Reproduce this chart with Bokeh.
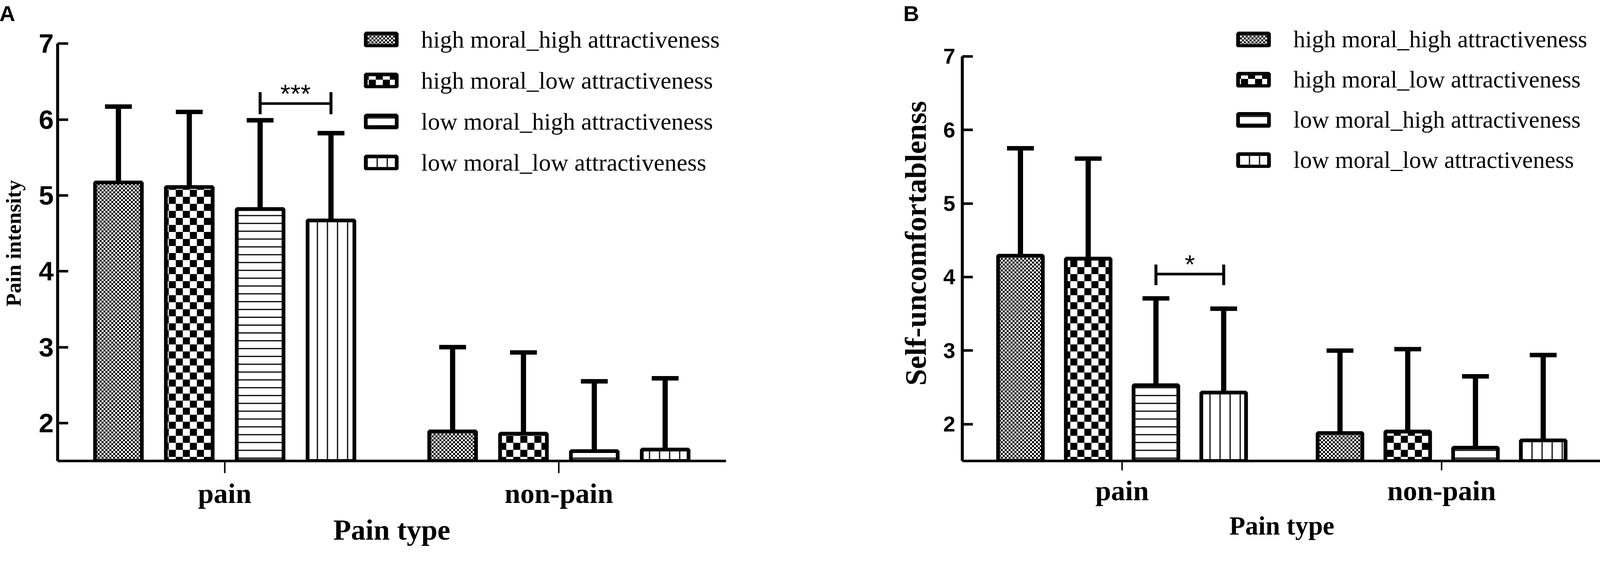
import base64
from bokeh.plotting import figure
from bokeh.models import (FactorRange, Range1d, ColumnDataSource, FixedTicker, Legend,
                          LegendItem, ImageURLTexture)
from bokeh.transform import dodge
from bokeh.layouts import row
from bokeh.core.properties import value
from bokeh.embed import file_html
from bokeh.resources import INLINE

# ---------------- data ----------------
categories = ["pain", "non-pain"]
series_names = ["high moral_high attractiveness", "high moral_low attractiveness",
                "low moral_high attractiveness", "low moral_low attractiveness"]
y_ticks = [2, 3, 4, 5, 6, 7]

# Panel A: Pain intensity, mean and mean + SD (pain, non-pain)
a_hmha = [5.17, 1.89]
a_hmha_upper = [6.17, 3.00]
a_hmla = [5.11, 1.86]
a_hmla_upper = [6.10, 2.93]
a_lmha = [4.82, 1.63]
a_lmha_upper = [5.99, 2.55]
a_lmla = [4.67, 1.65]
a_lmla_upper = [5.82, 2.59]

# Panel B: Self-uncomfortablenss, mean and mean + SD (pain, non-pain)
b_hmha = [4.29, 1.88]
b_hmha_upper = [5.75, 3.00]
b_hmla = [4.25, 1.90]
b_hmla_upper = [5.61, 3.02]
b_lmha = [2.53, 1.68]
b_lmha_upper = [3.71, 2.65]
b_lmla = [2.43, 1.78]
b_lmla_upper = [3.57, 2.94]

# significance brackets (low moral_high vs low moral_low, "pain")
a_sig_text = "***"
a_sig_line = 6.21
a_sig_ends = [6.07, 6.36]
a_sig_text_y = 6.34
b_sig_text = "*"
b_sig_line = 4.04
b_sig_ends = [3.89, 4.17]
b_sig_text_y = 4.17

# ---------------- styling ----------------
R = 1 / 1.048   # reference pixels -> page pixels


def s(v):
    return v * R


def px(v):
    return f"{v * R:.1f}px"


OFFSETS = [-0.318, -0.106, 0.106, 0.318]
BAR_W = 0.14


def checker_url(n):
    c = n // 2
    svg = (f"<svg xmlns='http://www.w3.org/2000/svg' width='{n}' height='{n}'>"
           f"<rect width='{n}' height='{n}' fill='white'/>"
           f"<rect width='{c}' height='{c}' fill='black'/>"
           f"<rect x='{c}' y='{c}' width='{c}' height='{c}' fill='black'/></svg>")
    return "data:image/svg+xml;base64," + base64.b64encode(svg.encode()).decode()


def hatch_kw(i):
    if i == 0:
        return dict(hatch_pattern=value("chk_fine"),
                    hatch_extra={"chk_fine": ImageURLTexture(url=checker_url(10))})
    if i == 1:
        return dict(hatch_pattern=value("chk_coarse"),
                    hatch_extra={"chk_coarse": ImageURLTexture(url=checker_url(36))})
    if i == 2:
        return dict(hatch_pattern="horizontal_line", hatch_scale=s(21), hatch_weight=3,
                    hatch_color="black")
    return dict(hatch_pattern="vertical_line", hatch_scale=s(27), hatch_weight=3,
                hatch_color="black")


def make_panel(means, uppers, ylabel, letter, sig_text, sig_line, sig_ends, sig_text_y, cfg):
    p = figure(x_range=FactorRange(*categories), y_range=Range1d(1.5, cfg["yend"]),
               width=cfg["width"], height=1409, output_backend="svg",
               toolbar_location=None, min_border_left=cfg["bl"],
               min_border_right=cfg["br"], min_border_top=63, min_border_bottom=229)
    p.outline_line_color = None
    p.grid.visible = False
    p.background_fill_color = "white"

    items = []
    for i, (m, u) in enumerate(zip(means, uppers)):
        src = ColumnDataSource(dict(cat=categories, mean=m, upper=u))
        xs = dodge("cat", OFFSETS[i], range=p.x_range)
        p.segment(x0=xs, y0="mean", x1=xs, y1="upper", source=src,
                  line_color="black", line_width=s(14))
        p.scatter(x=xs, y="upper", source=src, marker="dash", size=s(72),
                  line_color="black", line_width=s(12))
        r = p.vbar(x=xs, top="mean", bottom=0, width=BAR_W, source=src,
                   fill_color="white", line_color="black", line_width=s(10),
                   **hatch_kw(i))
        items.append(LegendItem(label=series_names[i], renderers=[r]))

    # significance bracket
    mid = (OFFSETS[2] + OFFSETS[3]) / 2
    bsrc = ColumnDataSource(dict(cat=["pain"], yl=[sig_line], y0=[sig_ends[0]],
                                 y1=[sig_ends[1]], ty=[sig_text_y], t=[sig_text]))
    x3 = dodge("cat", OFFSETS[2], range=p.x_range)
    x4 = dodge("cat", OFFSETS[3], range=p.x_range)
    p.segment(x0=x3, y0="yl", x1=x4, y1="yl", source=bsrc, line_color="black", line_width=s(7))
    p.segment(x0=x3, y0="y0", x1=x3, y1="y1", source=bsrc, line_color="black", line_width=s(8))
    p.segment(x0=x4, y0="y0", x1=x4, y1="y1", source=bsrc, line_color="black", line_width=s(8))
    p.text(x=dodge("cat", mid, range=p.x_range), y="ty", text="t", source=bsrc,
           text_align="center", text_baseline="middle", text_font=value("Liberation Sans"),
           text_font_size=px(70), text_color="black")

    legend = Legend(items=items, location=cfg["leg"], orientation="vertical",
                    glyph_width=99, glyph_height=40, label_height=76, spacing=cfg["sp"],
                    label_standoff=53, padding=0, margin=0,
                    label_text_font="Liberation Serif", label_text_font_size=cfg["legfont"],
                    label_text_color="black", border_line_color=None,
                    background_fill_alpha=0)
    p.add_layout(legend)

    # panel letter
    p.title.text = letter
    p.title.text_font = "Liberation Sans"
    p.title.text_font_style = "bold"
    p.title.text_font_size = "56px"
    p.title.text_color = "black"
    p.title.align = "left"
    p.title.offset = cfg["toff"]
    p.title.standoff = 0

    # axes
    ya = p.yaxis[0]
    ya.ticker = FixedTicker(ticks=y_ticks)
    ya.bounds = (1.5, 7)
    ya.axis_line_width = s(8)
    ya.major_tick_line_width = s(7)
    ya.major_tick_in = round(s(28))
    ya.major_tick_out = 0
    ya.minor_tick_line_color = None
    ya.major_label_text_font = "Liberation Sans"
    ya.major_label_text_font_style = "bold"
    ya.major_label_text_font_size = px(cfg["ytick_size"])
    ya.major_label_standoff = round(s(cfg["ystand"]))
    ya.axis_label = ylabel
    ya.axis_label_text_font = "Liberation Serif"
    ya.axis_label_text_font_style = "bold"
    ya.axis_label_text_font_size = px(cfg["ylab_size"])
    ya.axis_label_standoff = round(s(cfg["ylabstand"]))
    ya.axis_label_text_color = "black"
    ya.major_label_text_color = "black"

    xa = p.xaxis[0]
    xa.axis_line_width = s(7)
    xa.major_tick_line_width = s(4)
    xa.major_tick_out = round(s(cfg["xtick"]))
    xa.major_tick_in = 0
    xa.major_label_text_font = "Liberation Serif"
    xa.major_label_text_font_style = "bold"
    xa.major_label_text_font_size = px(76)
    xa.major_label_standoff = round(s(12))
    xa.axis_label = "Pain type"
    xa.axis_label_text_font = "Liberation Serif"
    xa.axis_label_text_font_style = "bold"
    xa.axis_label_text_font_size = px(cfg["xlab_size"])
    xa.axis_label_standoff = round(s(9))
    xa.axis_label_text_color = "black"
    xa.major_label_text_color = "black"
    return p


cfg_a = dict(width=2182, bl=147, br=324, yend=7.238, leg=(779, 726), sp=29, legfont="62px",
             ytick_size=72, ystand=10, ylab_size=58, ylabstand=32, xtick=33, xlab_size=78,
             toff=-149)
cfg_b = dict(width=1922, bl=281, br=5, yend=7.418, leg=(696, 732), sp=27, legfont="61px",
             ytick_size=58, ystand=19, ylab_size=80, ylabstand=26, xtick=25, xlab_size=70,
             toff=-151)

pA = make_panel([a_hmha, a_hmla, a_lmha, a_lmla],
                [a_hmha_upper, a_hmla_upper, a_lmha_upper, a_lmla_upper],
                "Pain intensity", "A", a_sig_text, a_sig_line, a_sig_ends, a_sig_text_y, cfg_a)
pB = make_panel([b_hmha, b_hmla, b_lmha, b_lmla],
                [b_hmha_upper, b_hmla_upper, b_lmha_upper, b_lmla_upper],
                "Self-uncomfortablenss", "B", b_sig_text, b_sig_line, b_sig_ends, b_sig_text_y,
                cfg_b)

layout = row(pA, pB)
open("out.html", "w").write(file_html(layout, INLINE))
